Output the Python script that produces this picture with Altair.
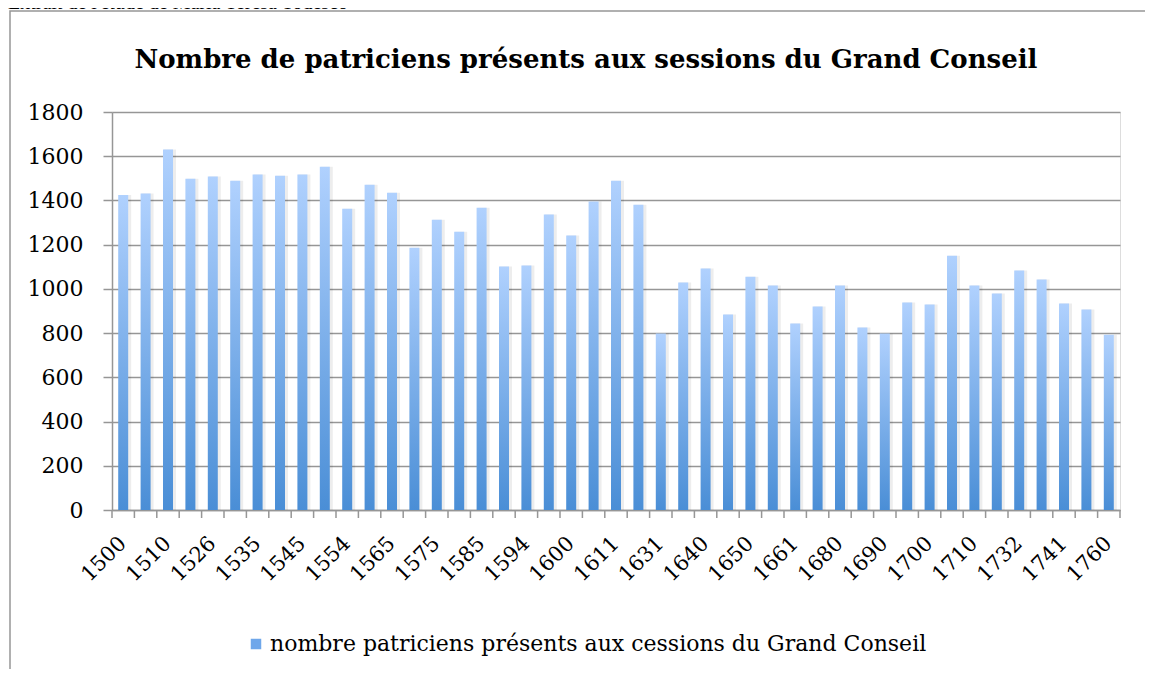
import json
import altair as alt
import pandas as pd

# ---- data ----
tick_labels = ["1500", "1510", "1526", "1535", "1545", "1554", "1565", "1575",
               "1585", "1594", "1600", "1611", "1631", "1640", "1650", "1661",
               "1680", "1690", "1700", "1710", "1732", "1741", "1760"]
values = [1425, 1431, 1630, 1498, 1508, 1489, 1517, 1512, 1517, 1552,
          1362, 1471, 1435, 1186, 1313, 1258, 1367, 1101, 1106, 1336,
          1241, 1395, 1489, 1381, 798, 1029, 1092, 884, 1055, 1015,
          843, 920, 1015, 825, 798, 938, 929, 1150, 1015, 979,
          1083, 1042, 934, 907, 793]
y_ticks = [0, 200, 400, 600, 800, 1000, 1200, 1400, 1600, 1800]
series_name = "nombre patriciens présents aux cessions du Grand Conseil"
title_text = "Nombre de patriciens présents aux sessions du Grand Conseil"
source_note = "Extrait de l'étude de Maria Teresa Todesco"

n = len(values)
df = pd.DataFrame({"idx": list(range(n)), "value": values, "series": [series_name] * n})
bounds = pd.DataFrame({"b": list(range(n + 1))})
note_df = pd.DataFrame({"t": [source_note]})
title_df = pd.DataFrame({"t": [title_text]})

W, H = 1008, 398
FONT = "DejaVu Serif"
NFONT = "Liberation Serif"
GRID = "#969696"

labs = json.dumps(tick_labels)
label_expr = f"datum.value % 2 == 0 ? {labs}[datum.value / 2] : ''"

grad = alt.Gradient(
    gradient="linear",
    stops=[alt.GradientStop(color="#b0d1fe", offset=0),
           alt.GradientStop(color="#4a8ed6", offset=1)],
    x1=0, x2=0, y1=0, y2=1,
)

x_band = alt.Scale(paddingInner=0, paddingOuter=0)
y_scale = alt.Scale(domain=[0, 1800], nice=False)

bars = alt.Chart(df).mark_bar(size=10, color=grad).encode(
    x=alt.X("idx:O", scale=x_band,
            axis=alt.Axis(title=None, labelExpr=label_expr, labelAngle=-45,
                          labelAlign="right", labelBaseline="middle",
                          labelPadding=30, ticks=False, grid=False,
                          domainColor=GRID, domainWidth=1.5,
                          labelFont=FONT, labelFontSize=21, labelColor="black")),
    y=alt.Y("value:Q", scale=y_scale,
            axis=alt.Axis(title=None, values=y_ticks, format="d", grid=True,
                          gridColor=GRID, gridWidth=1.5,
                          tickSize=9, tickColor=GRID, tickWidth=1.5,
                          domainColor=GRID, domainWidth=1.5,
                          labelPadding=20, labelFont=FONT, labelFontSize=22,
                          labelColor="black")),
)

shadow = alt.Chart(df).mark_bar(size=12, color="#000000", opacity=0.07, xOffset=2).encode(
    x=alt.X("idx:O", scale=x_band, axis=None),
    y=alt.Y("value:Q", scale=y_scale),
)

ticks = alt.Chart(bounds).mark_rule(color=GRID, strokeWidth=1.5).encode(
    x=alt.X("b:Q", scale=alt.Scale(domain=[0, n], nice=False, zero=False), axis=None),
    y=alt.value(H),
    y2=alt.value(H + 8),
)

legend_layer = alt.Chart(df).mark_square(opacity=0).encode(
    x=alt.X("idx:O", scale=x_band, axis=None),
    y=alt.Y("value:Q", scale=y_scale),
    color=alt.Color("series:N", scale=alt.Scale(range=["#6fa7ea"]),
                    legend=alt.Legend(title=None, orient="none",
                                      legendX=133, legendY=521,
                                      symbolType="square", symbolSize=110,
                                      symbolOpacity=1, symbolStrokeWidth=0,
                                      labelOffset=3,
                                      labelFont=FONT, labelFontSize=22,
                                      labelColor="black", labelLimit=0)),
)

frame = alt.Chart(note_df).mark_rect(fillOpacity=0, stroke=GRID, strokeWidth=1.5).encode(
    x=alt.value(-102), x2=alt.value(1300),
    y=alt.value(-101), y2=alt.value(900),
)

note = alt.Chart(note_df).mark_text(align="left", baseline="alphabetic",
                                    font=NFONT, fontSize=20, color="black").encode(
    x=alt.value(-104), y=alt.value(-103), text="t:N",
)

title = alt.Chart(title_df).mark_text(align="center", baseline="alphabetic",
                                      font=FONT, fontSize=26, fontWeight="bold",
                                      color="black").encode(
    x=alt.value(474), y=alt.value(-44), text="t:N",
)

chart = alt.layer(frame, shadow, bars, ticks, legend_layer, note, title).resolve_scale(
    x="independent"
).properties(
    width=W, height=H,
    autosize=alt.AutoSizeParams(type="none"),
    padding={"left": 104, "top": 104, "right": 25, "bottom": 159},
).configure_view(stroke=None).configure_legend(
    labelFont=FONT, labelFontSize=22
).configure(background="white")

chart.save("out.html", embed_options={"renderer": "svg", "actions": False})
